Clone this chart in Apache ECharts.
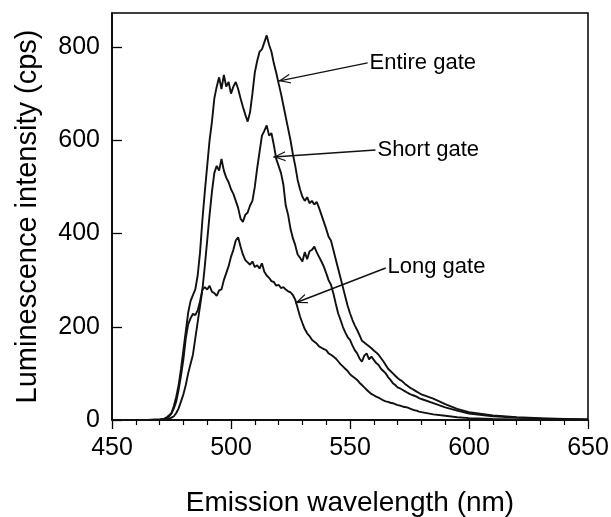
<!DOCTYPE html>
<html>
<head>
<meta charset="utf-8">
<script src="https://cdn.jsdelivr.net/npm/echarts@6/dist/echarts.min.js"></script>
<style>
  html, body { margin: 0; padding: 0; background: #fff; }
  #chart { width: 611px; height: 517px; }
</style>
</head>
<body>
<div id="chart"></div>
<script>
// emission wavelength (nm)
const wavelength = [
  450, 460, 465, 468,
  470, 471, 472, 473, 474, 475, 476, 477, 478, 479,
  480, 481, 482, 483, 484, 485, 486, 487, 488, 489,
  490, 491, 492, 493, 494, 495, 496, 497, 498, 499,
  500, 501, 502, 503, 504, 505, 506, 507, 508, 509,
  510, 511, 512, 513, 514, 515, 516, 517, 518, 519,
  520, 521, 522, 523, 524, 525, 526, 527, 528, 529,
  530, 531, 532, 533, 534, 535, 536, 537, 538, 539,
  540, 541, 542, 543, 544, 545, 546, 547, 548, 549,
  550, 551, 552, 553, 554, 555, 556, 557, 558, 559,
  560, 561, 562, 563, 564, 565, 566, 567, 568, 569,
  570, 571, 572, 573, 574, 575, 576, 577, 578, 579,
  580, 585, 590, 595, 600, 610, 620, 630, 640, 650
];

// luminescence intensity (cps)
const entireGate = [
  0, 0, 0, 1,
  1, 2, 3, 6, 10, 15, 30, 50, 75, 110,
  150, 190, 230, 255, 268, 280, 310, 360, 430, 490,
  545, 600, 640, 690, 715, 735, 710, 740, 715, 725,
  700, 715, 725, 710, 690, 672, 655, 640, 660, 700,
  745, 770, 790, 795, 810, 825, 805, 790, 765, 745,
  722, 700, 675, 650, 625, 600, 570, 545, 515, 495,
  479, 470, 478, 465, 470, 462, 468, 455, 440, 425,
  410, 393, 385, 365, 345, 325, 305, 285, 265, 245,
  229, 215, 203, 193, 182, 170, 166, 162, 158, 154,
  149, 145, 140, 133, 126, 118, 110, 105, 100, 95,
  90, 86, 83, 78, 74, 70, 67, 64, 61, 58,
  55, 46, 34, 24, 17, 10, 6, 4, 2, 1
];

const shortGate = [
  0, 0, 0, 0,
  0, 1, 1, 2, 3, 5, 8, 15, 25, 40,
  55, 75, 100, 120, 140, 175, 210, 245, 280, 330,
  385, 440, 490, 530, 545, 535, 560, 535, 520, 510,
  495, 485, 470, 455, 432, 425, 440, 445, 460, 470,
  500, 540, 575, 610, 620, 632, 610, 615, 590, 560,
  545, 530, 505, 460, 440, 410, 390, 375, 355, 348,
  340, 360, 345, 362, 365, 372, 360, 350, 340, 329,
  315, 300, 290, 272, 250, 229, 215, 200, 188, 178,
  172, 160, 150, 143, 132, 125, 138, 143, 130, 136,
  129, 122, 118, 110, 105, 100, 92, 86, 79, 75,
  70, 68, 65, 62, 59, 56, 54, 52, 50, 47,
  45, 36, 27, 20, 14, 8, 5, 3, 2, 1
];

const longGate = [
  0, 0, 0, 0,
  0, 1, 2, 4, 8, 14, 25, 40, 65, 95,
  130, 175, 205, 218, 228, 225, 235, 255, 280, 285,
  280, 288, 275, 272, 266, 278, 280, 300, 315, 330,
  350, 365, 385, 392, 372, 355, 343, 338, 333, 340,
  328, 332, 325, 336, 318, 310, 305, 298, 296, 288,
  290, 283, 285, 280, 276, 274, 268, 258, 240, 222,
  208, 195, 186, 180, 172, 168, 164, 158, 155, 152,
  150, 143, 140, 136, 132, 126, 120, 115, 110, 105,
  98, 94, 90, 86, 80, 75, 70, 65, 60, 56,
  53, 50, 48, 45, 42, 40, 39, 37, 36, 34,
  32, 31, 29, 28, 27, 25, 23, 21, 20, 18,
  17, 12, 9, 6, 4, 2, 1, 1, 0, 0
];

// annotation arrows: label, from (text side), to (arrow tip) in data units
const noteLabels = ['Entire gate', 'Short gate', 'Long gate'];
const noteFrom = [[557.4, 766], [560.7, 579], [565, 326]];
const noteTo = [[519.9, 727], [517.8, 564], [527, 251]];

const FONT = 'Liberation Sans, Arial, sans-serif';
// open arrow head, tip placed at the centre of the symbol box
const openArrow = 'path://M6 12 L12 24 L10.4 24 L6 15 L1.6 24 L0 24 Z M6 0 L6.1 0 L6 0.1 Z';

const toPairs = (ys) => wavelength.map((w, i) => [w, ys[i]]);

const chart = echarts.init(document.getElementById('chart'));

const lineSeries = (name, ys) => ({
  name: name,
  type: 'line',
  data: toPairs(ys),
  showSymbol: false,
  symbol: 'none',
  lineStyle: { color: '#111', width: 1.9 },
  silent: true,
});

const series = [
  lineSeries('Entire gate', entireGate),
  lineSeries('Short gate', shortGate),
  lineSeries('Long gate', longGate),
];

series[0].markLine = {
  silent: true,
  symbol: ['none', openArrow],
  symbolSize: [10, 24],
  lineStyle: { color: '#111', width: 1.4, type: 'solid' },
  label: {
    show: true,
    position: 'start',
    distance: 2,
    color: '#000',
    fontSize: 22,
    fontFamily: FONT,
    formatter: (p) => p.name,
  },
  data: noteLabels.map((lab, i) => [
    { name: lab, coord: noteFrom[i] },
    { coord: noteTo[i] },
  ]),
};

chart.setOption({
  animation: false,
  backgroundColor: '#fff',
  grid: {
    left: 112, right: 23, top: 13, bottom: 97,
    show: true, borderColor: '#000', borderWidth: 1.5,
    outerBoundsMode: 'none',
  },
  xAxis: {
    type: 'value',
    min: 450, max: 650, interval: 50,
    name: 'Emission wavelength (nm)',
    nameLocation: 'middle',
    nameGap: 69,
    nameTextStyle: { fontSize: 28, color: '#000', fontFamily: FONT },
    axisLine: { show: true, lineStyle: { color: '#000', width: 1.5 } },
    axisTick: { show: true, inside: false, length: 9, lineStyle: { color: '#000', width: 1.3 } },
    minorTick: { show: true, splitNumber: 5, length: 5, lineStyle: { color: '#000', width: 1.2 } },
    splitLine: { show: false },
    axisLabel: { fontSize: 25, color: '#000', fontFamily: FONT, margin: 16 },
  },
  yAxis: {
    type: 'value',
    min: 0, max: 873, interval: 200,
    name: 'Luminescence intensity (cps)',
    nameLocation: 'middle',
    nameGap: 70,
    nameTextStyle: { fontSize: 29, color: '#000', fontFamily: FONT },
    axisLine: { show: true, lineStyle: { color: '#000', width: 1.5 } },
    axisTick: { show: true, inside: true, length: 10, lineStyle: { color: '#000', width: 1.3 } },
    splitLine: { show: false },
    axisLabel: { fontSize: 25, color: '#000', fontFamily: FONT, margin: 12, showMaxLabel: false },
  },
  series: series,
});
</script>
</body>
</html>
